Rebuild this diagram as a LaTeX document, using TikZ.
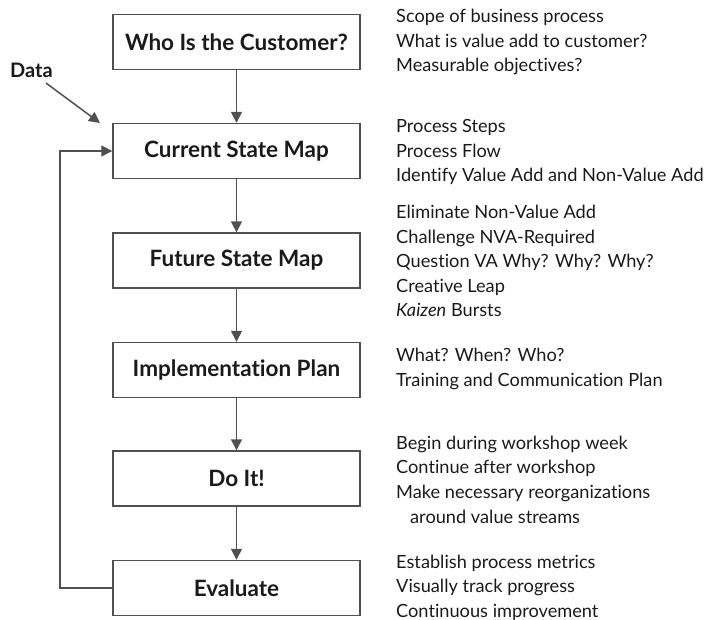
\documentclass[tikz,border=0pt]{standalone}
\usepackage{fontspec}
\setmainfont{Lato}[Ligatures=CommonOff]
\usetikzlibrary{arrows.meta}
\definecolor{ln}{HTML}{505050}
\definecolor{tx}{HTML}{1a1a1a}
\tikzset{
  stepbox/.style={draw=ln, line width=1.4pt, minimum width=247pt, minimum height=55pt, inner sep=0pt, font=\fontsize{22.5}{26}\selectfont\bfseries, text=tx},
  conn/.style={draw=ln, line width=1.5pt, -{Triangle[width=11pt,length=11pt]}},
  note/.style={anchor=west, inner sep=0pt, font=\fontsize{18.2}{24.6}\selectfont, text=tx, align=left},
}
\begin{document}
\begin{tikzpicture}[x=1pt,y=-1pt]
\useasboundingbox (0,0) rectangle (710,620);
\node[stepbox] (b1) at (236.5,42) {Who Is the Customer?};
\node[stepbox] (b2) at (236.5,151) {Current State Map};
\node[stepbox] (b3) at (236.5,260.5) {Future State Map};
\node[stepbox] (b4) at (236.5,370) {Implementation Plan};
\node[stepbox] (b5) at (236.5,478.5) {Do It!};
\node[stepbox] (b6) at (236.5,588) {Evaluate};
\draw[conn] (b1) -- (b2);
\draw[conn] (b2) -- (b3);
\draw[conn] (b3) -- (b4);
\draw[conn] (b4) -- (b5);
\draw[conn] (b5) -- (b6);
\coordinate (fb) at (60,0);
\draw[conn] (b6.west) -- (fb |- b6.west) -- (fb |- b2.west) -- (b2.west);
\node[font=\fontsize{20}{24}\selectfont\bfseries, text=tx, inner sep=0pt] (data) at (31.5,70) {Data};
\coordinate (dtip) at (100,123);
\draw[conn] (46,83) -- (dtip);
\node[note] (n1) at (396,42) {Scope of business process\\What is value add to customer?\\Measurable objectives?};
\node[note] (n2) at (396,152) {Process Steps\\Process Flow\\Identify Value Add and Non-Value Add};
\node[note] (n3) at (396,261) {Eliminate Non-Value Add\\Challenge NVA-Required\\Question VA Why? Why? Why?\\Creative Leap\\\textit{Kaizen} Bursts};
\node[note] (n4) at (396,369) {What? When? Who?\\Training and Communication Plan};
\node[note] (n5) at (396,479.5) {Begin during workshop week\\Continue after workshop\\Make necessary reorganizations\\\hspace*{14pt}around value streams};
\node[note] (n6) at (396,587.5) {Establish process metrics\\Visually track progress\\Continuous improvement};
\end{tikzpicture}
\end{document}
